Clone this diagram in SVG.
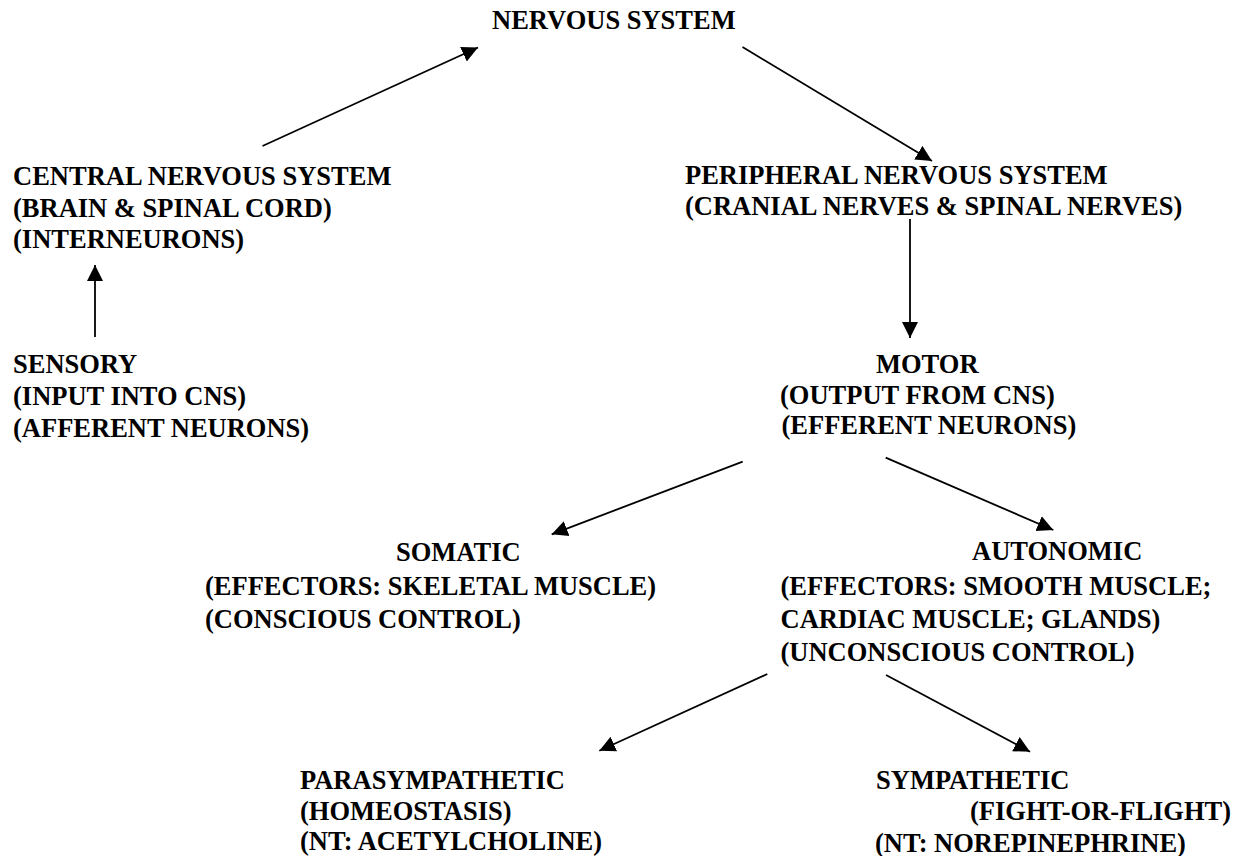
<svg xmlns="http://www.w3.org/2000/svg" width="1241" height="856" viewBox="0 0 1241 856">
<style>
  text { font-family: "Liberation Serif", "Times New Roman", "DejaVu Serif", serif; font-weight: bold; font-size: 26.5px; fill: #000; }
  .conn line { stroke: #000; stroke-width: 1.8; fill: none; marker-end: url(#arrow); }
</style>
<defs>
  <marker id="arrow" markerUnits="userSpaceOnUse" markerWidth="17" markerHeight="17" refX="16" refY="8.5" orient="auto">
    <path d="M0,0.5 L16,8.5 L0,16.5 Z" fill="#000"/>
  </marker>
</defs>
<rect width="1241" height="856" fill="#fff"/>
<g font-family="Liberation Serif, Times New Roman, serif" font-weight="bold">
<g id="nervous-system"><text x="492" y="28.5">NERVOUS SYSTEM</text></g>
<g id="cns">
  <text x="13" y="185">CENTRAL NERVOUS SYSTEM</text>
  <text x="13" y="216.5">(BRAIN &amp; SPINAL CORD)</text>
  <text x="13" y="248">(INTERNEURONS)</text>
</g>
<g id="sensory">
  <text x="13" y="372.5">SENSORY</text>
  <text x="13" y="405">(INPUT INTO CNS)</text>
  <text x="13" y="437">(AFFERENT NEURONS)</text>
</g>
<g id="pns">
  <text x="685" y="184">PERIPHERAL NERVOUS SYSTEM</text>
  <text x="685" y="215">(CRANIAL NERVES &amp; SPINAL NERVES)</text>
</g>
<g id="motor">
  <text x="876" y="373">MOTOR</text>
  <text x="780" y="403.5">(OUTPUT FROM CNS)</text>
  <text x="781.5" y="433.5">(EFFERENT NEURONS)</text>
</g>
<g id="somatic">
  <text x="396" y="560.5">SOMATIC</text>
  <text x="205" y="595">(EFFECTORS: SKELETAL MUSCLE)</text>
  <text x="205" y="628">(CONSCIOUS CONTROL)</text>
</g>
<g id="autonomic">
  <text x="972" y="560">AUTONOMIC</text>
  <text x="780.5" y="595">(EFFECTORS: SMOOTH MUSCLE;</text>
  <text x="780.5" y="627.5">CARDIAC MUSCLE; GLANDS)</text>
  <text x="780.5" y="660.5">(UNCONSCIOUS CONTROL)</text>
</g>
<g id="parasympathetic">
  <text x="300" y="788.5">PARASYMPATHETIC</text>
  <text x="300" y="819.5">(HOMEOSTASIS)</text>
  <text x="300" y="850">(NT: ACETYLCHOLINE)</text>
</g>
<g id="sympathetic">
  <text x="876" y="788.5">SYMPATHETIC</text>
  <text x="970" y="820">(FIGHT-OR-FLIGHT)</text>
  <text x="875" y="851.5">(NT: NOREPINEPHRINE)</text>
</g>
</g>
<g id="connectors" class="conn">
  <line x1="95" y1="337" x2="95" y2="265"/>
  <line x1="262.5" y1="146" x2="478" y2="47.5"/>
  <line x1="742.5" y1="47" x2="932" y2="161"/>
  <line x1="910" y1="219" x2="910" y2="338"/>
  <line x1="742.7" y1="461.7" x2="551.7" y2="534.3"/>
  <line x1="885.7" y1="457.7" x2="1053.3" y2="530"/>
  <line x1="767.3" y1="674" x2="599.3" y2="750.7"/>
  <line x1="886" y1="675" x2="1030" y2="751.7"/>
</g>
</svg>
